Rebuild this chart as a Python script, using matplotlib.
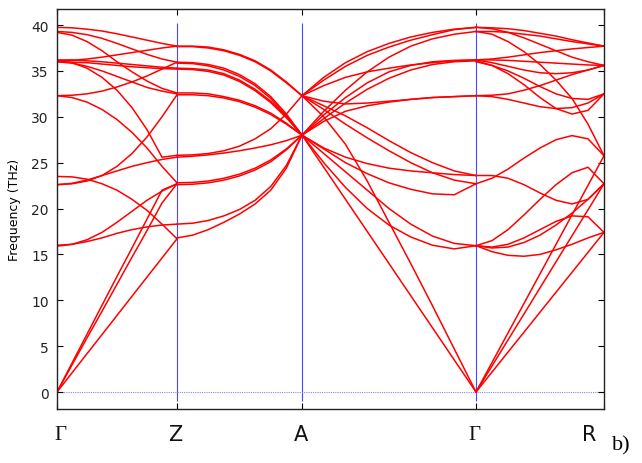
import numpy as np
import matplotlib
matplotlib.use("Agg")
import matplotlib.pyplot as plt

# high-symmetry path
kpath_labels = ["Γ", "Z", "A", "Γ", "R"]
kpath_pos = [0.0, 120.0, 245.0, 419.0, 547.0]
label_pos = [3.0, 118.0, 244.0, 417.0, 532.0]

# bands along each segment, values (THz) at 9 equally spaced k-points
seg_GZ = [
    [39.75, 39.7, 39.55, 39.35, 39.05, 38.7, 38.35, 38.0, 37.7],
    [36.1, 36.15, 36.3, 36.5, 36.75, 37.0, 37.25, 37.5, 37.7],
    [39.3, 39.2, 38.95, 38.55, 38.0, 37.4, 36.8, 36.3, 35.95],
    [32.3, 32.35, 32.5, 32.8, 33.25, 33.8, 34.45, 35.2, 35.95],
    [36.2, 36.2, 36.1, 36.0, 35.85, 35.7, 35.55, 35.4, 35.3],
    [36.0, 35.95, 35.9, 35.75, 35.6, 35.45, 35.35, 35.25, 35.2],
    [36.0, 35.85, 35.5, 35.0, 34.4, 33.8, 33.2, 32.8, 32.5],
    [39.2, 38.9, 38.2, 37.2, 36.0, 34.9, 33.9, 33.1, 32.6],
    [36.1, 35.9, 35.3, 34.3, 32.9, 31.0, 28.6, 25.6, 25.8],
    [22.6, 22.7, 23.0, 23.6, 24.6, 26.0, 27.8, 30.0, 32.4],
    [22.6, 22.75, 23.1, 23.6, 24.1, 24.6, 25.0, 25.35, 25.6],
    [32.3, 32.1, 31.6, 30.8, 29.7, 28.3, 26.6, 24.6, 22.8],
    [0.0, 3.15, 6.3, 9.45, 12.6, 15.7, 18.85, 22.0, 22.7],
    [0.0, 2.95, 5.9, 8.8, 11.75, 14.7, 17.6, 20.6, 22.7],
    [0.0, 2.09, 4.18, 6.26, 8.35, 10.44, 12.53, 14.61, 16.7],
    [23.5, 23.45, 23.2, 22.7, 22.0, 21.0, 19.8, 18.3, 16.7],
    [16.0, 16.1, 16.4, 16.8, 17.3, 17.7, 18.0, 18.2, 18.3],
    [15.9, 16.1, 16.6, 17.4, 18.5, 19.7, 20.9, 21.9, 22.7],
]
seg_ZA = [
    [37.7, 37.7, 37.6, 37.3, 36.8, 36.1, 35.1, 33.8, 32.3],
    [37.65, 37.65, 37.5, 37.2, 36.7, 36.0, 35.0, 33.7, 32.3],
    [35.95, 35.9, 35.7, 35.3, 34.6, 33.6, 32.2, 30.3, 28.0],
    [35.85, 35.8, 35.55, 35.1, 34.4, 33.4, 32.0, 30.1, 28.0],
    [35.3, 35.25, 35.1, 34.7, 34.0, 33.0, 31.7, 30.0, 28.0],
    [35.2, 35.15, 34.95, 34.55, 33.85, 32.85, 31.55, 29.9, 28.0],
    [32.6, 32.6, 32.5, 32.2, 31.8, 31.2, 30.4, 29.3, 28.0],
    [32.4, 32.4, 32.3, 32.05, 31.65, 31.05, 30.25, 29.2, 28.0],
    [25.8, 25.85, 26.0, 26.3, 26.8, 27.6, 28.7, 30.3, 32.3],
    [25.6, 25.7, 25.85, 26.05, 26.3, 26.6, 26.95, 27.4, 28.0],
    [22.8, 22.85, 23.0, 23.3, 23.75, 24.4, 25.3, 26.5, 28.0],
    [22.6, 22.65, 22.8, 23.1, 23.55, 24.2, 25.1, 26.4, 28.0],
    [18.3, 18.4, 18.7, 19.2, 19.9, 20.9, 22.4, 24.7, 28.0],
    [16.8, 17.1, 17.7, 18.5, 19.4, 20.5, 22.0, 24.4, 28.0],
]
seg_AG = [
    [32.3, 34.3, 35.9, 37.1, 38.0, 38.7, 39.2, 39.55, 39.75],
    [32.3, 34.0, 35.5, 36.7, 37.6, 38.35, 38.95, 39.5, 39.75],
    [28.0, 30.6, 32.9, 34.9, 36.5, 37.7, 38.5, 39.0, 39.3],
    [28.0, 30.2, 32.1, 33.7, 34.9, 35.6, 36.0, 36.15, 36.2],
    [28.0, 29.8, 31.5, 33.0, 34.2, 35.1, 35.7, 36.0, 36.1],
    [32.3, 33.4, 34.3, 34.9, 35.3, 35.65, 35.9, 36.1, 36.2],
    [32.3, 31.7, 31.4, 31.5, 31.7, 31.9, 32.1, 32.2, 32.3],
    [28.0, 29.5, 30.6, 31.2, 31.6, 31.9, 32.1, 32.2, 32.3],
    [32.3, 31.2, 30.1, 28.8, 27.4, 26.1, 25.0, 24.1, 23.6],
    [28.0, 26.6, 25.6, 24.9, 24.4, 24.1, 23.9, 23.7, 23.6],
    [28.0, 26.5, 25.0, 23.8, 22.8, 22.1, 21.6, 21.5, 22.7],
    [32.3, 30.8, 29.2, 27.7, 26.3, 25.0, 23.9, 23.1, 22.7],
    [28.0, 25.0, 22.3, 20.0, 18.2, 16.9, 16.0, 15.6, 15.95],
    [28.0, 26.0, 24.0, 22.0, 20.0, 18.3, 17.0, 16.2, 15.95],
    [28.0, 24.5, 21.0, 17.5, 14.0, 10.5, 7.0, 3.5, 0.0],
    [32.3, 30.0, 27.0, 23.0, 18.5, 14.0, 9.4, 4.7, 0.0],
]
seg_GR = [
    [39.75, 39.7, 39.6, 39.4, 39.1, 38.8, 38.4, 38.05, 37.7],
    [39.3, 39.3, 39.2, 39.0, 38.8, 38.5, 38.2, 37.95, 37.7],
    [39.75, 39.6, 39.2, 38.6, 37.9, 37.2, 36.5, 36.0, 35.6],
    [39.3, 39.0, 38.2, 37.1, 35.7, 34.0, 32.0, 29.2, 25.75],
    [36.2, 36.3, 36.5, 36.75, 37.0, 37.2, 37.4, 37.55, 37.7],
    [36.2, 36.2, 36.15, 36.05, 35.95, 35.85, 35.75, 35.65, 35.6],
    [36.2, 35.9, 35.5, 35.1, 34.8, 34.7, 34.8, 35.1, 35.6],
    [36.1, 35.6, 34.7, 33.5, 32.1, 30.9, 30.3, 30.7, 32.5],
    [36.0, 35.6, 35.0, 34.2, 33.3, 32.5, 32.0, 31.9, 32.5],
    [32.3, 32.35, 32.5, 32.9, 33.4, 34.0, 34.6, 35.1, 35.6],
    [32.3, 32.2, 31.9, 31.5, 31.1, 30.9, 31.0, 31.5, 32.5],
    [22.7, 23.3, 24.3, 25.5, 26.6, 27.5, 27.95, 27.6, 25.75],
    [23.6, 23.6, 23.3, 22.6, 21.7, 20.9, 20.5, 21.0, 22.7],
    [15.95, 16.5, 17.7, 19.3, 21.0, 22.6, 23.9, 24.5, 22.7],
    [15.95, 15.3, 14.9, 14.8, 15.0, 15.5, 16.1, 16.8, 17.4],
    [15.95, 15.8, 16.1, 16.8, 17.7, 18.6, 19.2, 19.1, 17.4],
    [15.95, 15.7, 15.8, 16.3, 17.1, 18.2, 19.5, 21.0, 22.7],
    [0.0, 2.175, 4.35, 6.525, 8.7, 10.875, 13.05, 15.225, 17.4],
    [0.0, 2.84, 5.68, 8.51, 11.35, 14.19, 17.03, 19.86, 22.7],
    [0.0, 3.22, 6.44, 9.66, 12.88, 16.09, 19.31, 22.53, 25.75],
]
segments = [seg_GZ, seg_ZA, seg_AG, seg_GR]
yticks = [0, 5, 10, 15, 20, 25, 30, 35, 40]

fig = plt.figure(figsize=(6.42, 4.64), dpi=100)
ax = fig.add_axes([57 / 642, 54 / 464, 547 / 642, 400 / 464])

for i, seg in enumerate(segments):
    xs = np.linspace(kpath_pos[i], kpath_pos[i + 1], len(seg[0]))
    for band in seg:
        ax.plot(xs, band, color="#ff0000", lw=1.1, solid_joinstyle="round")

ax.vlines(kpath_pos[1:4], -1.0, 40.2, color="#4848ff", lw=0.8, zorder=0)
ax.axhline(0, color="#8080ff", lw=0.8, ls=(0, (1, 1)), zorder=0)

ax.set_xlim(kpath_pos[0], kpath_pos[-1])
ax.set_ylim(-1.85, 41.75)
ax.set_yticks(yticks)
ax.set_xticks(kpath_pos)
ax.set_xticklabels([])
for xp, lab in zip(label_pos, kpath_labels):
    fam = "Liberation Serif" if lab == "Γ" else "DejaVu Sans"
    ax.text(xp, -4.6, lab, ha="center", va="center", fontsize=15, family=fam,
            color="#111111")
ax.tick_params(direction="in", top=True, right=True, length=4, width=0.8,
               labelsize=10, labelcolor="#222222", pad=6)
for s in ax.spines.values():
    s.set_linewidth(1.0)
    s.set_color("#222222")
ax.set_ylabel("Frequency (THz)", fontsize=9, labelpad=7)
fig.text(612 / 642, 1 - 446 / 464, "b)", fontsize=16, family="Liberation Serif",
         ha="left", va="center")

fig.savefig("out.png", dpi=100)
